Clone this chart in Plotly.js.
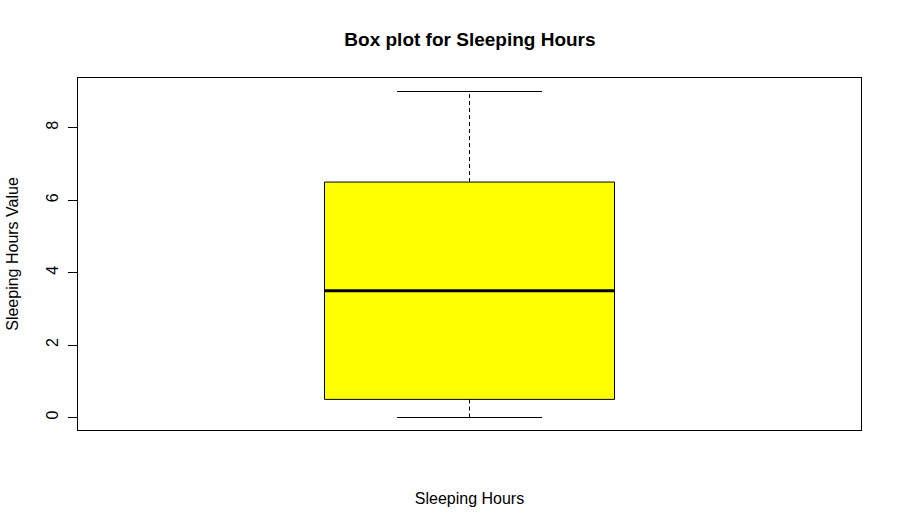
<!DOCTYPE html>
<html>
<head>
<meta charset="utf-8">
<script src="https://cdn.plot.ly/plotly-3.0.1.min.js"></script>
<style>html,body{margin:0;padding:0;background:#fff;}#chart{width:902px;height:528px;}</style>
</head>
<body>
<div id="chart"></div>
<script>
// Five-number summary
const category = ["Sleeping Hours"];
const minValue = [0];
const q1Value = [0.5];
const medianValue = [3.5];
const q3Value = [6.5];
const maxValue = [9];
const yTicks = [0, 2, 4, 6, 8];

const pos = 1;          // box position on x axis
const halfBox = 0.2;    // half box width
const halfCap = 0.1;    // half whisker cap width

const traces = [
  {
    type: 'box',
    x: [pos],
    q1: q1Value, median: medianValue, q3: q3Value,
    lowerfence: q1Value, upperfence: q3Value,
    width: 2 * halfBox,
    whiskerwidth: 0,
    fillcolor: '#FFFF00',
    line: {color: '#000000', width: 1},
    boxpoints: false,
    hoverinfo: 'skip',
    showlegend: false,
    name: category[0]
  },
  { // thick median
    type: 'scatter', mode: 'lines',
    x: [pos - halfBox, pos + halfBox], y: [medianValue[0], medianValue[0]],
    line: {color: '#000000', width: 3}, hoverinfo: 'skip', showlegend: false
  },
  { // upper whisker
    type: 'scatter', mode: 'lines',
    x: [pos, pos], y: [q3Value[0], maxValue[0]],
    line: {color: '#000000', width: 1, dash: '4px,3px'}, hoverinfo: 'skip', showlegend: false
  },
  { // lower whisker
    type: 'scatter', mode: 'lines',
    x: [pos, pos], y: [minValue[0], q1Value[0]],
    line: {color: '#000000', width: 1, dash: '4px,3px'}, hoverinfo: 'skip', showlegend: false
  },
  { // upper cap
    type: 'scatter', mode: 'lines',
    x: [pos - halfCap, pos + halfCap], y: [maxValue[0], maxValue[0]],
    line: {color: '#000000', width: 1}, hoverinfo: 'skip', showlegend: false
  },
  { // lower cap
    type: 'scatter', mode: 'lines',
    x: [pos - halfCap, pos + halfCap], y: [minValue[0], minValue[0]],
    line: {color: '#000000', width: 1}, hoverinfo: 'skip', showlegend: false
  }
];

const layout = {
  width: 902, height: 528,
  paper_bgcolor: '#ffffff', plot_bgcolor: '#ffffff',
  margin: {l: 78, r: 41, t: 78, b: 98},
  font: {family: 'Liberation Sans, Arial, sans-serif', color: '#000000', size: 16},
  title: {
    text: '<b>Box plot for Sleeping Hours</b>',
    font: {size: 19, family: 'Liberation Sans, Arial, sans-serif', color: '#000000'},
    x: 0.5006, xref: 'paper', xanchor: 'center',
    y: 40, yref: 'container', yanchor: 'middle'
  },
  xaxis: {
    range: [0.46, 1.54],
    showgrid: false, zeroline: false,
    showticklabels: false, ticks: '',
    showline: true, mirror: true, linecolor: '#000000', linewidth: 1,
    title: {text: 'Sleeping Hours', standoff: 62, font: {size: 16}},
    automargin: false, fixedrange: true
  },
  yaxis: {
    range: [-0.345, 9.373],
    tickvals: yTicks, ticktext: yTicks.map(String),
    tickangle: -90,
    ticks: 'outside', ticklen: 9, tickwidth: 1, tickcolor: '#000000',
    ticklabelstandoff: 4,
    showgrid: false, zeroline: false,
    showline: true, mirror: true, linecolor: '#000000', linewidth: 1,
    title: {text: 'Sleeping Hours Value', standoff: 20, font: {size: 16}},
    automargin: false, fixedrange: true
  }
};

Plotly.newPlot('chart', traces, layout, {displayModeBar: false, staticPlot: true});
</script>
</body>
</html>
